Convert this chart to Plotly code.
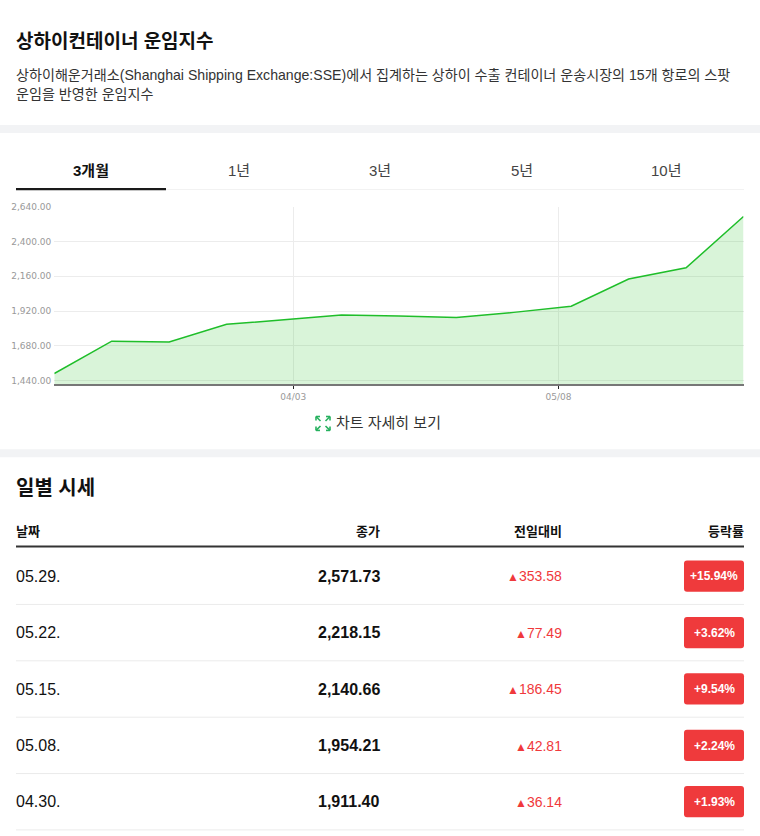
import plotly.graph_objects as go

W, H = 760, 836
FONT = "Liberation Sans, Arial, Noto Sans CJK KR, sans-serif"

# ---- data ----
chart_dates = ["03.06", "03.13", "03.20", "03.27", "04.03", "04.10", "04.17",
               "04.24", "04.30", "05.08", "05.15", "05.22", "05.29"]
chart_values = [1490, 1713, 1708, 1829, 1860, 1894, 1887, 1875.26, 1911.40,
                1954.21, 2140.66, 2218.15, 2571.73]
y_ticks = [1440, 1680, 1920, 2160, 2400, 2640]
x_tick_labels = ["04/03", "05/08"]
x_tick_pos = [4.16, 8.78]

tabs = ["3개월", "1년", "3년", "5년", "10년"]

row_dates = ["05.29.", "05.22.", "05.15.", "05.08.", "04.30."]
row_close = ["2,571.73", "2,218.15", "2,140.66", "1,954.21", "1,911.40"]
row_change = ["353.58", "77.49", "186.45", "42.81", "36.14"]
row_pct = ["+15.94%", "+3.62%", "+9.54%", "+2.24%", "+1.93%"]
headers = ["날짜", "종가", "전일대비", "등락률"]

title = "상하이컨테이너 운임지수"
desc1 = "상하이해운거래소(Shanghai Shipping Exchange:SSE)에서 집계하는 상하이 수출 컨테이너 운송시장의 15개 항로의 스팟"
desc2 = "운임을 반영한 운임지수"


def px(x):
    return x / W


def py(y):
    return 1 - y / H


annotations = []
shapes = []


def ann(text, x, y, size, color, xanchor="left", weight="normal"):
    annotations.append(dict(
        text=text, x=px(x), y=py(y), xref="paper", yref="paper",
        xanchor=xanchor, yanchor="middle", showarrow=False,
        font=dict(family=FONT, size=size, color=color, weight=weight),
    ))


def rect(x0, y0, x1, y1, color):
    shapes.append(dict(type="rect", xref="paper", yref="paper",
                       x0=px(x0), x1=px(x1), y0=py(y1), y1=py(y0),
                       fillcolor=color, line=dict(width=0), layer="below"))


def line(x0, y0, x1, y1, color, width=1):
    shapes.append(dict(type="line", xref="paper", yref="paper",
                       x0=px(x0), x1=px(x1), y0=py(y0), y1=py(y1),
                       line=dict(color=color, width=width)))


def rrect(x0, y0, x1, y1, r, color):
    p = (f"M {px(x0 + r)},{py(y0)} L {px(x1 - r)},{py(y0)} "
         f"Q {px(x1)},{py(y0)} {px(x1)},{py(y0 + r)} L {px(x1)},{py(y1 - r)} "
         f"Q {px(x1)},{py(y1)} {px(x1 - r)},{py(y1)} L {px(x0 + r)},{py(y1)} "
         f"Q {px(x0)},{py(y1)} {px(x0)},{py(y1 - r)} L {px(x0)},{py(y0 + r)} "
         f"Q {px(x0)},{py(y0)} {px(x0 + r)},{py(y0)} Z")
    shapes.append(dict(type="path", xref="paper", yref="paper", path=p,
                       fillcolor=color, line=dict(width=0)))


# ---- header section ----
ann(title, 14, 37, 19, "#111111", weight="bold")
ann(desc1, 14, 71, 14.1, "#333333")
ann(desc2, 14, 89.5, 14.1, "#333333")
rect(0, 121, W, 129, "#f2f3f5")

# ---- tabs ----
tab_centers = [91, 239, 380, 522, 666]
for i, (t, cx) in enumerate(zip(tabs, tab_centers)):
    ann(t, cx, 166.5, 15, "#111111" if i == 0 else "#444444", xanchor="center",
        weight="bold" if i == 0 else "normal")
line(166, 186, 744, 186, "#f2f2f2", 1)
rect(16, 184.5, 166, 186.8, "#1a1a1a")

# ---- chart detail link ----
g = "#27b15f"
for (cx, cy, dx, dy) in [(316, 415, 1, 1), (330, 415, -1, 1), (316, 429, 1, -1), (330, 429, -1, -1)]:
    line(cx, cy, cx + 4.5 * dx, cy + 4.5 * dy, g, 1.6)
    line(cx, cy, cx + 4 * dx, cy, g, 1.6)
    line(cx, cy, cx, cy + 4 * dy, g, 1.6)
ann("차트 자세히 보기", 334, 421, 15, "#333333")
rect(0, 448, W, 456, "#f2f3f5")

# ---- daily table ----
ann("일별 시세", 14, 487.5, 20, "#111111", weight="bold")
ann(headers[0], 14, 531, 13, "#111111", weight="bold")
ann(headers[1], 382, 531, 13, "#111111", xanchor="right", weight="bold")
ann(headers[2], 564, 531, 13, "#111111", xanchor="right", weight="bold")
ann(headers[3], 746, 531, 13, "#111111", xanchor="right", weight="bold")
rect(16, 545, 744, 547, "#333333")

row_h = 56.85
for i in range(len(row_dates)):
    cy = 576.3 + i * row_h
    ann(row_dates[i], 14, cy, 16, "#111111")
    ann(row_close[i], 382, cy, 16, "#111111", xanchor="right", weight="bold")
    ann('<span style="font-size:12px">▲</span>' + row_change[i], 564, cy, 14,
        "#f0393c", xanchor="right")
    rrect(684, cy - 16, 744, cy + 15.5, 3, "#ef3a3c")
    ann(row_pct[i], 714, cy, 12, "#ffffff", xanchor="center", weight="bold")
    line(16, cy + 28.2, 744, cy + 28.2, "#ebebeb", 1)

# ---- chart ----
xi = list(range(len(chart_values)))
fig = go.Figure()
fig.add_trace(go.Scatter(
    x=xi, y=chart_values, mode="lines", fill="tozeroy",
    fillcolor="rgba(44,196,44,0.18)",
    line=dict(color="#1fbe2a", width=1.5),
    text=chart_dates, hoverinfo="text+y",
))

fig.update_layout(
    width=W, height=H, margin=dict(l=0, r=0, t=0, b=0),
    paper_bgcolor="white", plot_bgcolor="white",
    showlegend=False,
    annotations=annotations, shapes=shapes,
    xaxis=dict(
        domain=[px(54.3), px(743.5)], range=[0, len(chart_values) - 1],
        tickvals=x_tick_pos, ticktext=x_tick_labels,
        showgrid=True, gridcolor="#ececec", gridwidth=1,
        showline=True, linecolor="#777777", linewidth=2,
        ticks="outside", ticklen=3, tickcolor="#222222", tickwidth=1,
        tickfont=dict(family="DejaVu Sans, sans-serif", size=9, color="#999999"),
        zeroline=False, fixedrange=True,
    ),
    yaxis=dict(
        domain=[py(382.5), py(203.3)], range=[1416, 2640],
        tickvals=y_ticks, tickformat=",.2f",
        showgrid=True, gridcolor="#ececec", gridwidth=1,
        showline=False, zeroline=False, ticks="", ticklabelstandoff=2,
        tickfont=dict(family="DejaVu Sans, sans-serif", size=9, color="#999999"),
        fixedrange=True,
    ),
)

fig.write_html("out.html")
